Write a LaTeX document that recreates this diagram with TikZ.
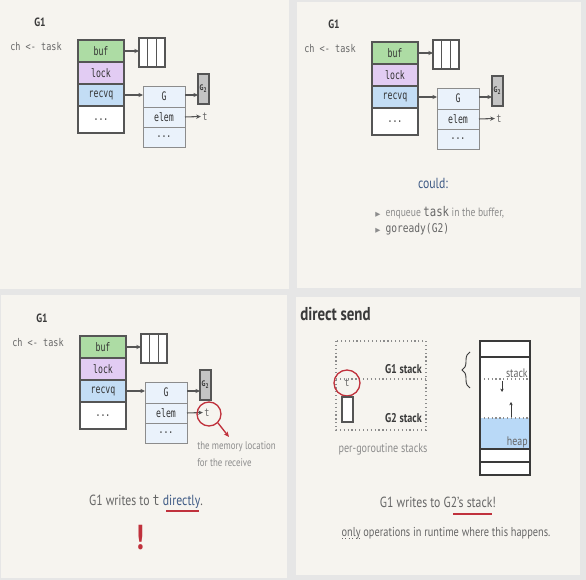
\documentclass[tikz,border=0pt]{standalone}
\usepackage{fontspec}
\setmainfont[FakeStretch=0.8]{PT Sans}
\newfontfamily\codefont[FakeStretch=0.8]{DejaVu Sans Mono}
\newfontfamily\cellfont[FakeStretch=0.7]{DejaVu Sans Mono}
\newfontfamily\symfont{DejaVu Sans}
\usetikzlibrary{arrows.meta,decorations.pathreplacing}
\definecolor{pagebg}{HTML}{E6E6E6}
\definecolor{panel}{HTML}{F6F4EF}
\definecolor{celldraw}{HTML}{555555}
\definecolor{celltext}{HTML}{333333}
\definecolor{bufc}{HTML}{ADDCA4}
\definecolor{lockc}{HTML}{E2CCF3}
\definecolor{recvc}{HTML}{C3DDF5}
\definecolor{sudc}{HTML}{EAF2FB}
\definecolor{sudd}{HTML}{8C8C8C}
\definecolor{gboxc}{HTML}{C4C4C4}
\definecolor{arrowc}{HTML}{555555}
\definecolor{txt}{HTML}{666666}
\definecolor{lighttxt}{HTML}{8C8C8C}
\definecolor{darktxt}{HTML}{3A3A3A}
\definecolor{bluetxt}{HTML}{3E5A85}
\definecolor{redc}{HTML}{C0313C}
\definecolor{heapc}{HTML}{B9D9F7}
\newcommand\code[1]{{\codefont #1}}
\tikzset{
  mw/.style={minimum width=#1*0.75pt},
  mh/.style={minimum height=#1*0.75pt},
  cell/.style={draw=celldraw, line width=0.9pt, inner sep=0pt, outer sep=0pt,
    font=\cellfont\fontsize{8.8}{9}\selectfont, text=celltext},
  sud/.style={cell, draw=sudd, line width=0.7pt, fill=sudc},
  gbox/.style={cell, fill=gboxc, font=\bfseries\fontsize{6}{6}\selectfont},
  hdr/.style={font=\bfseries\fontsize{9}{10}\selectfont, text=darktxt, inner sep=0pt},
  cmd/.style={font=\codefont\fontsize{8}{9}\selectfont, text=txt, inner sep=0pt},
  ctext/.style={font=\codefont\fontsize{8}{9}\selectfont, text=txt, inner sep=1pt},
  conn/.style={-{Stealth[length=3.5pt,width=3.2pt]}, draw=arrowc, line width=0.8pt},
  small/.style={font=\fontsize{8.3}{9}\selectfont, text=lighttxt, inner sep=0pt},
  sent/.style={font=\fontsize{11}{12}\selectfont, text=txt, inner sep=0pt},
  lbl/.style={font=\bfseries\fontsize{9.5}{10}\selectfont, text=darktxt, inner sep=0pt},
}
\newcommand\chanpic[3]{%
\begin{scope}[shift={(#2,#3)}]
\node[hdr] (#1g1) at (40,22) {G1};
\node[cmd] (#1ch) at (36,47) {ch <- task};
\node[cell, fill=bufc, mw=46, mh=22] (#1buf) at (101,51) {buf};
\node[cell, fill=lockc, mw=46, mh=22] (#1lock) at (101,73) {lock};
\node[cell, fill=recvc, mw=46, mh=22] (#1recvq) at (101,95) {recvq};
\node[cell, fill=white, mw=46, mh=27] (#1more) at (101,119.5) {...};
\node[cell, fill=white, mw=8.67, mh=29] (#1bA) at (143.3,52.5) {};
\node[cell, fill=white, mw=8.67, mh=29] (#1bB) at (152,52.5) {};
\node[cell, fill=white, mw=8.67, mh=29] (#1bC) at (160.7,52.5) {};
\node[sud, mw=42, mh=21] (#1G) at (164,96.5) {G};
\node[sud, mw=42, mh=20] (#1elem) at (164,117) {elem};
\node[sud, mw=42, mh=20] (#1sdots) at (164,137) {...};
\node[gbox, mw=11, mh=30] (#1G2) at (203.5,89) {G\textsubscript{2}};
\node[ctext] (#1t) at (205,116.5) {t};
\draw[conn] (#1buf.east) -- (#1buf.east -| #1bA.west);
\draw[conn] (#1recvq.east) -- (#1recvq.east -| #1G.west);
\draw[conn] (#1G.east |- #1recvq.east) -- (#1recvq.east -| #1G2.west);
\draw[conn] (#1elem.east) -- (#1t.west);
\end{scope}}
\begin{document}
\begin{tikzpicture}[x=0.75pt,y=-0.75pt]
\useasboundingbox (0,0) rectangle (586,580);
\fill[pagebg] (0,0) rectangle (586,580);
\fill[panel] (0,0) rectangle (289,289);
\fill[panel] (297,2) rectangle (581,288);
\fill[panel] (1,295) rectangle (287,578);
\fill[panel] (296,297) rectangle (580,575);

% top-left
\chanpic{tl}{0}{0}
% top-right
\chanpic{tr}{294}{2}
\node[font=\fontsize{11}{12}\selectfont, text=bluetxt, inner sep=0pt] (could) at (433,183) {could:};
\node[anchor=west, font=\fontsize{9}{10}\selectfont, text=lighttxt, inner sep=0pt] (bulA) at (375,213)
  {{\symfont\fontsize{5}{6}\selectfont ▶}\ \ enqueue {\color{txt}\code{\fontsize{10}{10}\selectfont task}} in the buffer,};
\node[anchor=west, font=\fontsize{9}{10}\selectfont, text=lighttxt, inner sep=0pt] (bulB) at (375,229)
  {{\symfont\fontsize{5}{6}\selectfont ▶}\ \ {\color{txt}\code{\fontsize{9}{10}\selectfont goready(G2)}}};

% bottom-left
\chanpic{bl}{2}{296}
\node[circle, draw=redc, line width=1pt, minimum size=24*0.75pt, inner sep=0pt] (blcirc) at (209,414) {};
\coordinate (blarr) at (229,437);
\draw[-{Stealth[length=4pt,width=3.5pt]}, draw=redc, line width=1pt] (blcirc.south east) -- (blarr);
\node[small, anchor=west] (mem1) at (197,447) {the memory location};
\node[small, anchor=west] (mem2) at (197,463) {for the receive};
\node[sent] (blsent) at (146,502) {G1 writes to \code{t} {\color{bluetxt}directly}.};
\draw[redc, line width=1pt] (166,511) -- (199,511);
\node[font=\bfseries\fontsize{26}{28}\selectfont, text=redc, inner sep=0pt] (bang) at (140,538) {!};

% bottom-right
\node[font=\bfseries\fontsize{14}{16}\selectfont, text=darktxt, anchor=west, inner sep=0pt] (title) at (300,314) {direct send};
\draw[lighttxt, dotted, line width=0.9pt] (336,341) rectangle (426,430);
\draw[lighttxt, dotted, line width=0.9pt] (336,379) -- (426,379);
\node[lbl, anchor=east] (g1s) at (422,369) {G1 stack};
\node[lbl, anchor=east] (g2s) at (422,418) {G2 stack};
\node[circle, draw=redc, line width=1pt, minimum size=26*0.75pt, inner sep=0pt, font=\codefont\fontsize{8}{9}\selectfont, text=txt] (brt) at (347,383) {t};
\draw[celldraw, line width=0.9pt, fill=white] (342,397) rectangle (353,422);
\node[small, font=\fontsize{9.5}{10}\selectfont] (pgs) at (383,449) {per-goroutine stacks};

\draw[fill=white, draw=darktxt, line width=0.9pt] (480,341) rectangle (530,475);
\fill[heapc] (480,418) rectangle (530,449);
\draw[darktxt, line width=0.9pt] (480,357) -- (530,357);
\draw[darktxt, line width=0.9pt] (480,449) -- (530,449);
\draw[darktxt, line width=0.9pt] (480,462) -- (530,462);
\draw[lighttxt, dotted, line width=0.9pt] (480,379) -- (530,379);
\draw[lighttxt, dotted, line width=0.9pt] (480,418) -- (530,418);
\draw[darktxt, line width=0.9pt] (480,341) rectangle (530,475);
\node[font=\fontsize{9.3}{10}\selectfont, text=txt, anchor=east, inner sep=0pt] (stk) at (528,373) {stack};
\node[font=\fontsize{9.3}{10}\selectfont, text=txt, anchor=east, inner sep=0pt] (hp) at (528,442) {heap};
\draw[-{Stealth[length=2.5pt,width=2.5pt]}, darktxt, line width=0.6pt] (502,381) -- (502,392);
\draw[-{Stealth[length=2.5pt,width=2.5pt]}, darktxt, line width=0.6pt] (511,417) -- (511,402);
\draw[decorate, decoration={brace, amplitude=6pt}, darktxt, line width=0.7pt] (470,388) -- (470,352);

\node[sent] (brsent) at (438,502) {G1 writes to G2's stack!};
\draw[redc, line width=1pt] (453,514) -- (492,514);
\node[small, font=\fontsize{9.7}{10}\selectfont, text=txt] (onlyl) at (446,533) {only operations in runtime where this happens.};
\draw[txt, dotted, line width=0.6pt] (342,538) -- (360,538);
\end{tikzpicture}
\end{document}
